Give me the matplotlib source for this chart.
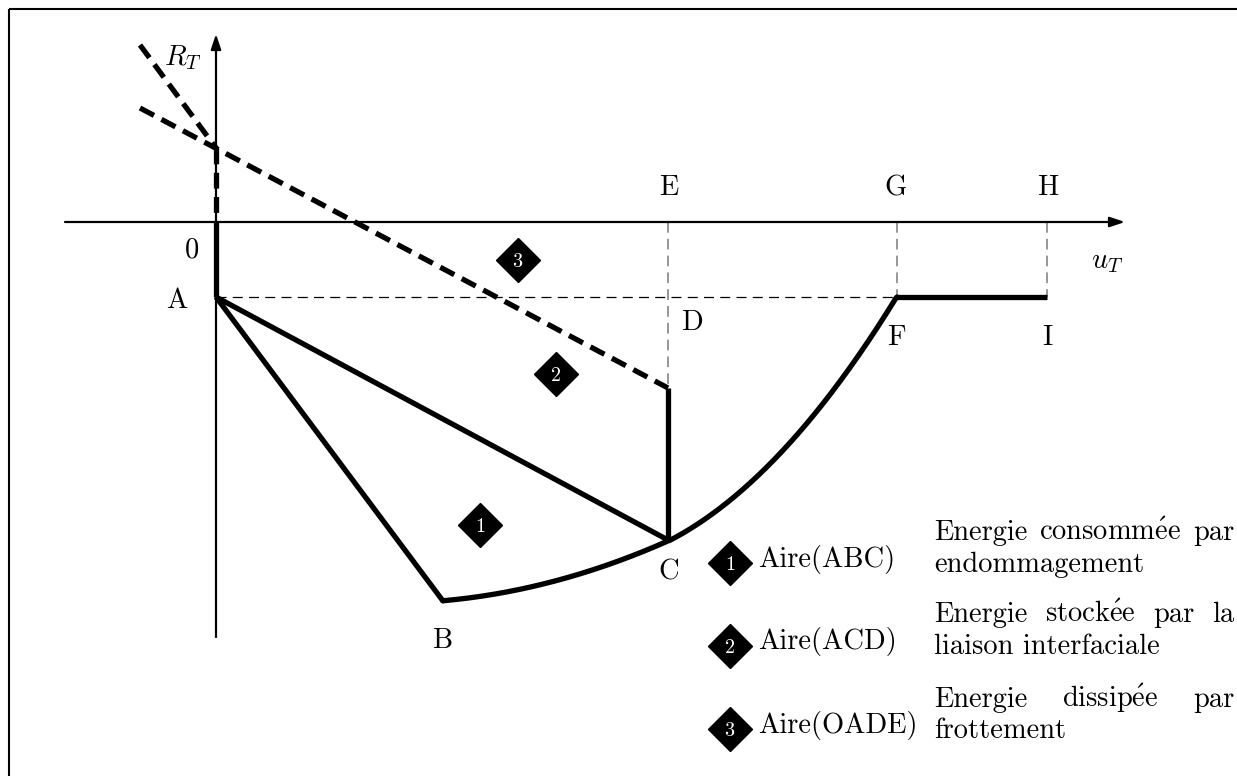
import numpy as np
import matplotlib.pyplot as plt
from matplotlib.patches import Rectangle

plt.rcParams['font.family'] = ['cmr10', 'DejaVu Serif']
plt.rcParams['mathtext.fontset'] = 'cm'
plt.rcParams['axes.unicode_minus'] = False

# key points of the diagram (drawing units = pixels, y pointing down)
A = (216, 297)
B = (443, 601)
C = (668, 540)
D = (668, 388)
F = (897, 297)
I = (1047, 297)
O = (216, 222)
P = (216, 148)          # crossing point of the friction lines

# curves B -> C and C -> F
bc_x = [443, 480, 520, 547, 580, 613, 645, 668]
bc_y = [601, 596, 590, 582, 574, 563, 552, 540]
cf_x = [668, 717, 767, 800, 833, 867, 897]
cf_y = [540, 513, 467, 430, 390, 343, 297]

# dashed friction lines
steep_x = [140, 216]
steep_y = [45, 148]
shallow_x = [140, 668]
shallow_y = [108, 388]

# point labels: text, x, baseline y
point_labels = [('E', 669, 195), ('G', 896, 195), ('H', 1048, 195),
                ('0', 192, 257), ('A', 177, 308), ('D', 692, 330),
                ('F', 896, 345), ('I', 1047, 345), ('C', 669, 580),
                ('B', 442, 648)]

# area markers on the diagram
area_num = ['1', '2', '3']
area_x = [480, 556, 518]
area_y = [525, 374, 260]

# legend
leg_num = ['1', '2', '3']
leg_y = [563, 646, 729]
leg_aire = ['Aire(ABC)', 'Aire(ACD)', 'Aire(OADE)']
leg_aire_base = [567, 649, 733]
E_ACUTE = r'$\mathrm{\acute{e}}$'
leg_line1 = ['Energie consomm' + E_ACUTE + 'e par',
             'Energie stock' + E_ACUTE + 'e par la',
             'Energie dissip' + E_ACUTE + 'e par']
leg_line1_base = [540, 622, 707]
leg_line2 = ['endommagement', 'liaison interfaciale', 'frottement']
leg_line2_base = [572, 654, 738]

fs = 20.5
fig = plt.figure(figsize=(12.37, 7.76), dpi=100)
ax = fig.add_axes([0, 0, 1, 1])
ax.set_xlim(0, 1237)
ax.set_ylim(776, 0)
ax.axis('off')

ax.add_patch(Rectangle((9, 9), 1240, 780, fill=False, lw=1.5, ec='black'))

# axes with arrows
arrow = dict(arrowstyle='-|>,head_length=0.9,head_width=0.3', lw=1.6, color='black',
             shrinkA=0, shrinkB=0)
ax.annotate('', xy=(1125, 222), xytext=(65, 222), arrowprops=arrow)
ax.annotate('', xy=(216, 34), xytext=(216, 637), arrowprops=arrow)
ax.text(183, 65, r'$R_T$', fontsize=fs, ha='center', va='baseline')
ax.text(1107, 268, r'$u_T$', fontsize=fs, ha='center', va='baseline')

# thin dashed guides
ax.plot([A[0], F[0]], [A[1], F[1]], color='black', lw=0.9, dashes=(8, 5))
gray = '#7a7a7a'
for gx, gy in [D, F, I]:
    ax.plot([gx, gx], [O[1], gy], color=gray, lw=1.1, dashes=(7, 4))

# thick dashed friction lines
tlw = 3.8
for xs, ys in [(steep_x, steep_y), (shallow_x, shallow_y), ([P[0], O[0]], [P[1], O[1]])]:
    ax.plot(xs, ys, color='black', lw=tlw, dashes=(3, 1.6))

# thick solid path
for p, q in [(O, A), (A, B), (A, C), (D, C), (F, I)]:
    ax.plot([p[0], q[0]], [p[1], q[1]], color='black', lw=tlw, solid_capstyle='butt')

# smooth the read curve points with a parabola per segment
for xs, ys in [(bc_x, bc_y), (cf_x, cf_y)]:
    coef = np.polyfit(xs, ys, 2)
    xx = np.linspace(xs[0], xs[-1], 200)
    yy = np.polyval(coef, xx)
    yy[0], yy[-1] = ys[0], ys[-1]
    ax.plot(xx, yy, color='black', lw=tlw, solid_capstyle='round')

for t, x, y in point_labels:
    ax.text(x, y, t, fontsize=fs, ha='center', va='baseline')

def badge(x, y, n):
    ax.plot(x, y, marker='D', ms=22, color='black', mec='black')
    ax.text(x, y + 7, r'$\mathbf{%s}$' % n, fontsize=14.5, color='white',
            ha='center', va='baseline')

for n, x, y in zip(area_num, area_x, area_y):
    badge(x, y, n)

for n, y, t, b in zip(leg_num, leg_y, leg_aire, leg_aire_base):
    badge(730, y, n)
    ax.text(758, b, t, fontsize=fs, ha='left', va='baseline')

# justified description text between x0 and x1
x0, x1 = 934, 1234
renderer = fig.canvas.get_renderer()

def justify(line, y):
    words = line.split(' ')
    arts = [ax.text(0, y, w, fontsize=fs, ha='left', va='baseline') for w in words]
    widths = [a.get_window_extent(renderer).width for a in arts]
    gap = (x1 - x0 - sum(widths)) / (len(words) - 1)
    x = x0
    for a, w in zip(arts, widths):
        a.set_x(x)
        x += w + gap

for line, y in zip(leg_line1, leg_line1_base):
    justify(line, y)
for line, y in zip(leg_line2, leg_line2_base):
    ax.text(x0, y, line, fontsize=fs, ha='left', va='baseline')

fig.savefig('out.png', dpi=100)
